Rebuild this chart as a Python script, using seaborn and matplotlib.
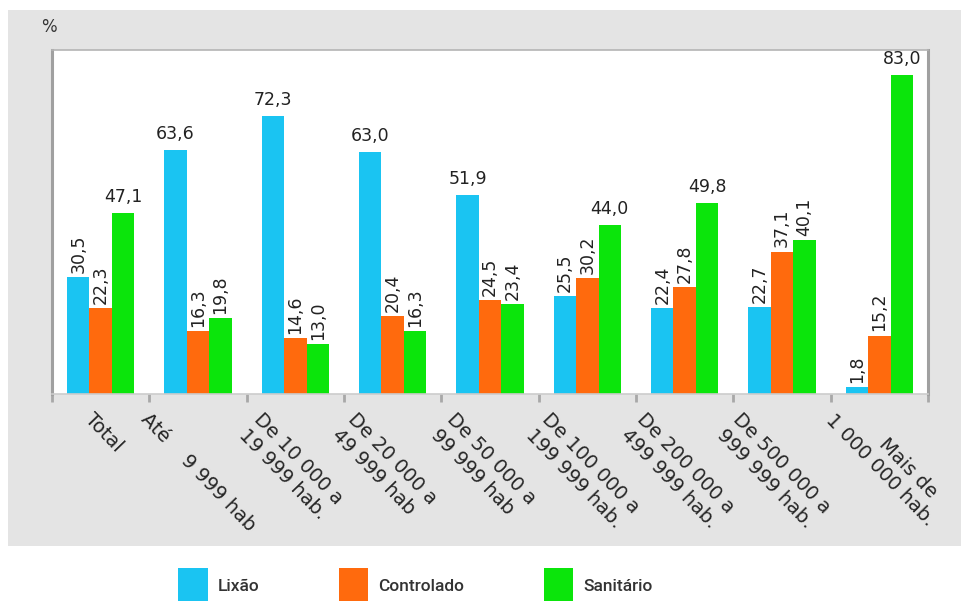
import matplotlib
matplotlib.use("Agg")
import matplotlib.pyplot as plt
from matplotlib.patches import Rectangle
from matplotlib.ticker import FixedLocator
import seaborn as sns
import pandas as pd

# ---------------- data ----------------
categories = ["Total", "Até 9 999 hab", "De 10 000 a 19 999 hab.",
              "De 20 000 a 49 999 hab", "De 50 000 a 99 999 hab",
              "De 100 000 a 199 999 hab.", "De 200 000 a 499 999 hab.",
              "De 500 000 a 999 999 hab.", "Mais de 1 000 000 hab."]
tick_labels = ["Total", "Até    9 999 hab", "De 10 000 a\n19 999 hab.",
               "De 20 000 a\n49 999 hab", "De 50 000 a\n99 999 hab",
               "De 100 000 a\n199 999 hab.", "De 200 000 a\n499 999 hab.",
               "De 500 000 a\n999 999 hab.", "Mais de   \n1 000 000 hab."]
series = ["Lixão", "Controlado", "Sanitário"]
lixao = [30.5, 63.6, 72.3, 63.0, 51.9, 25.5, 22.4, 22.7, 1.8]
controlado = [22.3, 16.3, 14.6, 20.4, 24.5, 30.2, 27.8, 37.1, 15.2]
sanitario = [47.1, 19.8, 13.0, 16.3, 23.4, 44.0, 49.8, 40.1, 83.0]

# ---------------- layout / style ----------------
colors = ["#1AC4F2", "#FF6A0D", "#0BE50B"]
vertical_label = [
    [True, False, False, False, False, True, True, True, True],
    [True, True, True, True, True, True, True, True, True],
    [False, True, True, True, True, False, False, True, False],
]
label_x = [-0.06, 0.51, 1.68, 2.64, 3.66, 4.63, 5.61, 6.60, 7.56]

rows = []
for cat, a, b, c in zip(categories, lixao, controlado, sanitario):
    rows.append((cat, series[0], a))
    rows.append((cat, series[1], b))
    rows.append((cat, series[2], c))
df = pd.DataFrame(rows, columns=["estrato", "tipo", "valor"])

sns.set_style("white")
plt.rcParams["font.family"] = ["DejaVu Sans"]

W, H = 962, 601
fig = plt.figure(figsize=(W / 100, H / 100), dpi=100, facecolor="white")
fig.patches.append(Rectangle((8 / W, (H - 546) / H), (W - 8) / W, 536 / H,
                             transform=fig.transFigure, facecolor="#e4e4e4",
                             edgecolor="none", zorder=-5))
ax = fig.add_axes([52 / W, (H - 394) / H, 876 / W, 344 / H])
ax.set_facecolor("white")

sns.barplot(data=df, x="estrato", y="valor", hue="tipo", order=categories,
            hue_order=series, palette=colors, saturation=1, width=0.69,
            errorbar=None, ax=ax, linewidth=0)

ax.set_ylim(0, 89.6)
ax.set_xlim(-0.5, len(categories) - 0.5)
ax.set_xlabel("")
ax.set_ylabel("")
ax.set_yticks([])

# value labels
for cont, flags in zip(ax.containers, vertical_label):
    vals = cont.datavalues
    horiz = [f"{v:.1f}".replace(".", ",") if not f else "" for v, f in zip(vals, flags)]
    vert = [f"{v:.1f}".replace(".", ",") if f else "" for v, f in zip(vals, flags)]
    ax.bar_label(cont, labels=horiz, padding=5, fontsize=12.5, color="#222222")
    ax.bar_label(cont, labels=vert, padding=3, fontsize=12.5, color="#222222",
                 rotation=90)

# ticks
ax.xaxis.set_major_locator(FixedLocator(label_x))
ax.set_xticklabels(tick_labels)
ax.xaxis.set_minor_locator(FixedLocator([i - 0.5 for i in range(len(categories) + 1)]))
ax.tick_params(axis="x", which="major", length=0, pad=11.5, labelsize=14,
               labelcolor="#262626")
ax.tick_params(axis="x", which="minor", length=6, width=2, color="#a8a8a8",
               direction="out", bottom=True)
for i, lab in enumerate(ax.get_xticklabels()):
    lab.set_rotation(-46)
    lab.set_rotation_mode("anchor")
    lab.set_ha("left")
    lab.set_va("top")
    if i == len(categories) - 1:
        lab.set_va("center")
        lab.set_multialignment("right")

for side in ["left", "right"]:
    ax.spines[side].set_color("#a0a0a0")
    ax.spines[side].set_linewidth(2.2)
ax.spines["top"].set_color("#b4b4b4")
ax.spines["top"].set_linewidth(1.2)
ax.spines["bottom"].set_color("#cccccc")
ax.spines["bottom"].set_linewidth(1.2)

ax.text(-0.004, 1.068, "%", transform=ax.transAxes, ha="center", va="center",
        fontsize=12, color="#333333")

# legend
handles, labels = ax.get_legend_handles_labels()
ax.get_legend().remove()
fig.legend(handles, labels, loc="upper left",
           bbox_to_anchor=(178 / W, (H - 568) / H), ncol=3, frameon=False,
           borderpad=0, borderaxespad=0, handlelength=1.7, handleheight=2.8,
           handletextpad=0.6, columnspacing=4.55,
           labelcolor="#333333",
           prop={"family": ["Roboto", "DejaVu Sans"], "size": 12.5,
                 "weight": "medium"})

fig.savefig("out.png", dpi=100, facecolor="white")
